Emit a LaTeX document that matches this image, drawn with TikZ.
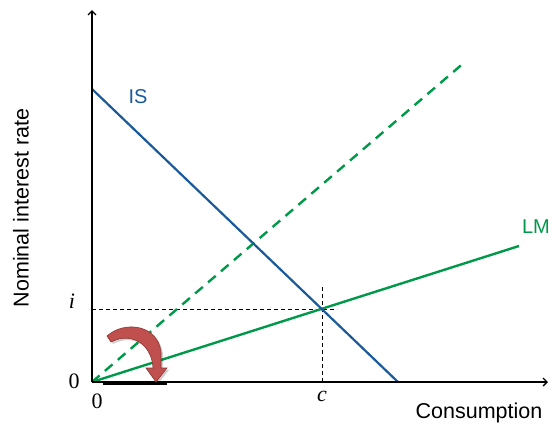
\documentclass[tikz,border=0pt]{standalone}
\usepackage{fontspec}
\setmainfont{Liberation Sans}
\newfontfamily\serifm{Liberation Serif}
\usetikzlibrary{arrows.meta}
\definecolor{isblue}{HTML}{1A5A99}
\definecolor{lmgreen}{HTML}{00994A}
\definecolor{arrred}{HTML}{C0504D}
\definecolor{arrdark}{HTML}{8A3634}
\tikzset{
  axisline/.style={line width=1.3pt, -{Straight Barb[length=4pt,width=8pt]}},
  isline/.style={isblue, line width=2.2pt},
  lmline/.style={lmgreen, line width=2.4pt},
  lmdash/.style={lmgreen, line width=2.4pt, dash pattern=on 10pt off 7pt},
  guide/.style={black, line width=0.9pt, dash pattern=on 4pt off 3pt},
  sanslabel/.style={font=\fontsize{20}{24}\selectfont, inner sep=0pt},
  axislabel/.style={font=\fontsize{21.5}{25}\selectfont, inner sep=0pt},
  mathlabel/.style={font=\serifm\fontsize{22}{26}\selectfont, inner sep=0pt},
}
\begin{document}
\begin{tikzpicture}[x=1pt,y=-1pt]
\useasboundingbox (0,0) rectangle (557,432);
% key points
\coordinate (O) at (92,382);
\coordinate (Ytop) at (92,10);
\coordinate (Xend) at (548,382);
\coordinate (ISa) at (92,89);
\coordinate (ISb) at (398,382);
\coordinate (LMb) at (519,246);
\coordinate (Db) at (466,61);
\coordinate (E) at (322,309);
\coordinate (Hl) at (92,309);
\coordinate (Hr) at (337,309);
\coordinate (Vt) at (322,287);
\coordinate (Vb) at (322,382);
\coordinate (Ba) at (103,383);
\coordinate (Bb) at (167,383);
% guides
\draw[guide] (Hl) -- (Hr);
\draw[guide] (Vt) -- (Vb);
% lines
\draw[lmdash] (O) -- (Db);
\draw[lmline] (O) -- (LMb);
\draw[isline] (ISa) -- (ISb);
% axes
\draw[axisline] (O) -- (Ytop);
\draw[axisline] (O) -- (Xend);
\draw[line width=3pt] (Ba) -- (Bb);
% curved arrow (shadow + body)
\fill[black, opacity=0.18, shift={(2,2)}]
  (107,336) .. controls (125,320) and (158,325) .. (161,352) -- (161,368)
  -- (167,368) -- (156,382) -- (146,368) -- (153,368)
  .. controls (152,345) and (132,331) .. (111,342) -- cycle;
\filldraw[fill=arrred, draw=arrdark, line width=0.6pt]
  (107,336) .. controls (125,320) and (158,325) .. (161,352) -- (161,368)
  -- (167,368) -- (156,382) -- (146,368) -- (153,368)
  .. controls (152,345) and (132,331) .. (111,342) -- cycle;
% labels
\node[sanslabel, text=isblue] (lIS) at (138,97) {IS};
\node[sanslabel, text=lmgreen] (lLM) at (536,227) {LM};
\node[axislabel] (lx) at (479,413) {Consumption};
\node[axislabel, rotate=90] (ly) at (21,208) {Nominal interest rate};
\node[mathlabel] (li) at (72,301) {\itshape i};
\node[mathlabel] (l0y) at (74,381) {0};
\node[mathlabel] (l0x) at (97,401) {0};
\node[mathlabel] (lc) at (322,396) {\itshape c};
\end{tikzpicture}
\end{document}
